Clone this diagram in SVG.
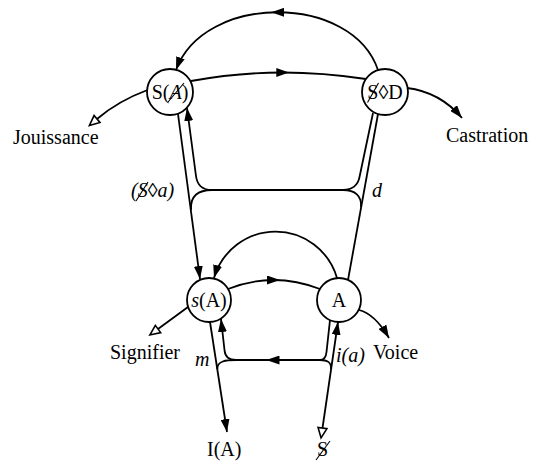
<svg xmlns="http://www.w3.org/2000/svg" width="536" height="464" viewBox="0 0 536 464">
<style>
.c{fill:none;stroke:#000;stroke-width:1.8}
.n{fill:#fff;stroke:#000;stroke-width:1.8}
.sl{fill:none;stroke:#000;stroke-width:1.1}
text{font-family:"Liberation Serif","DejaVu Serif",serif;font-size:20px;fill:#000}
.it{font-style:italic}
.m{text-anchor:middle}
</style>
<defs>
<marker id="arr" markerUnits="userSpaceOnUse" markerWidth="13" markerHeight="9" viewBox="0 0 13 9" refX="13" refY="4.5" orient="auto"><path d="M0,0 L13,4.5 L0,9 z" fill="#000"/></marker>
<marker id="mid" markerUnits="userSpaceOnUse" markerWidth="13" markerHeight="9" viewBox="0 0 13 9" refX="6.5" refY="4.5" orient="auto"><path d="M0,0 L13,4.5 L0,9 z" fill="#000"/></marker>
<marker id="tri" markerUnits="userSpaceOnUse" markerWidth="14" markerHeight="12" viewBox="-2 -6 14 12" refX="0" refY="0" orient="auto-start-reverse"><path d="M0,-4.5 L10,0 L0,4.5 z" fill="#fff" stroke="#000" stroke-width="1.6"/></marker>
</defs>
<g id="connectors">
<path class="c" d="M378,70 C365,31.5 321.5,12.25 277.75,12.25 C234,12.25 190,31.5 176,70" marker-mid="url(#mid)" marker-end="url(#arr)"/>
<path class="c" d="M191,81 Q238,72.5 282.8,72.5 Q322.5,72.5 366,79" marker-mid="url(#mid)"/>
<path class="c" d="M97,119 Q118,101 147.5,90" marker-start="url(#tri)"/>
<path class="c" d="M407,88 Q440,92 462,118" marker-end="url(#arr)"/>
<path class="c" d="M178,114 L200,279" marker-end="url(#arr)"/>
<path class="c" d="M212,190 C201,190 197,184 196,176 L187,108" marker-end="url(#arr)"/>
<path class="c" d="M212,190 L343,190"/>
<path class="c" d="M212,190 C198,190 190,196 191,210"/>
<path class="c" d="M343,190 C352,190 358,185 359.5,177 L373,113"/>
<path class="c" d="M343,190 C355,190 362,196 361,207"/>
<path class="c" d="M378,114 L348,280"/>
<path class="c" d="M337,278 A64,64 0 0 0 214,278" marker-end="url(#arr)"/>
<path class="c" d="M228,289 Q250.5,280 273.5,280 Q296.5,280 320,289" marker-mid="url(#mid)"/>
<path class="c" d="M158,329 L188,307" marker-start="url(#tri)"/>
<path class="c" d="M359,310 Q375,314 389,338" marker-end="url(#arr)"/>
<path class="c" d="M210,322 L227,432" marker-end="url(#arr)"/>
<path class="c" d="M236,360 C229,360 225,357 224.5,350 L221,319" marker-end="url(#arr)"/>
<path class="c" d="M320,360 L273,360 L236,360" marker-mid="url(#mid)"/>
<path class="c" d="M236,360 C226,360 217,361 217.3,369"/>
<path class="c" d="M320,360 C324,360 326,357 326.5,352 L330,320"/>
<path class="c" d="M320,360 C327,360 331.5,362 331,369"/>
<path class="c" d="M322.5,428 L338,322" marker-start="url(#tri)" marker-end="url(#arr)"/>
</g>
<g id="node-SA">
<circle class="n" cx="170" cy="92" r="23"/>
<text class="m" x="170" y="99">S(<tspan class="it">A</tspan>)</text>
<path class="sl" d="M168,102 L184,83"/>
</g>
<g id="node-SD">
<circle class="n" cx="385" cy="92" r="23"/>
<text class="m" x="385" y="99">S◊D</text>
<path class="sl" d="M367.5,102.5 L378.5,83"/>
</g>
<g id="node-sA">
<circle class="n" cx="209" cy="300" r="22"/>
<text class="m" x="209" y="307"><tspan class="it">s</tspan>(A)</text>
</g>
<g id="node-A">
<circle class="n" cx="339" cy="300" r="22"/>
<text class="m" x="339" y="307">A</text>
</g>
<g id="labels">
<text x="13" y="144">Jouissance</text>
<text x="446" y="142">Castration</text>
<text x="110" y="359">Signifier</text>
<text x="373" y="359">Voice</text>
<text class="it" x="131" y="197">(S◊a)</text>
<path class="sl" d="M136,201 L148,182"/>
<text class="it" x="372" y="197">d</text>
<text class="it" x="195" y="366">m</text>
<text class="it" x="336" y="362">i(a)</text>
<text x="207" y="456">I(A)</text>
<text x="317" y="456">S</text>
<path class="sl" d="M316,460 L330,441"/>
</g>
</svg>
